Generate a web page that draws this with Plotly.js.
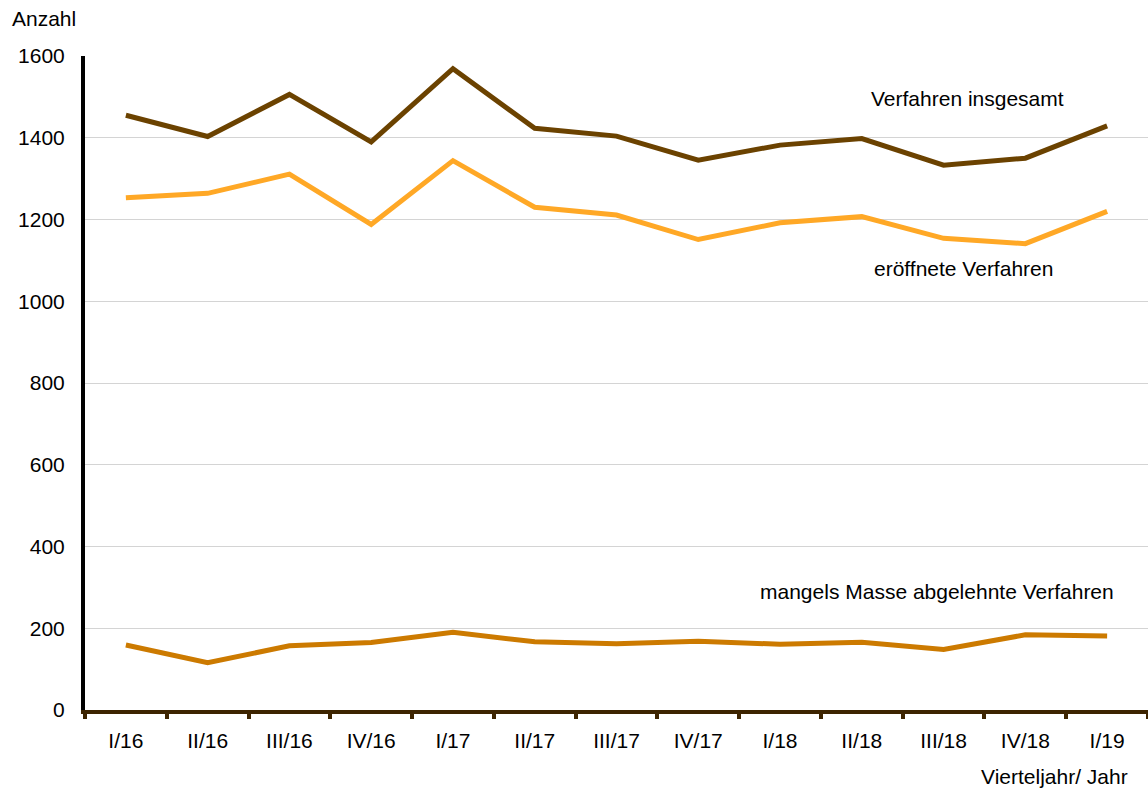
<!DOCTYPE html>
<html>
<head>
<meta charset="utf-8">
<script src="https://cdn.plot.ly/plotly-3.0.1.min.js"></script>
<style>
html,body{margin:0;padding:0;background:#fff;}
#chart{width:1148px;height:792px;}
</style>
</head>
<body>
<div id="chart"></div>
<script>
const quarters = ["I/16","II/16","III/16","IV/16","I/17","II/17","III/17","IV/17","I/18","II/18","III/18","IV/18","I/19"];
const insgesamt = [1455,1403,1506,1390,1569,1423,1404,1345,1382,1398,1333,1350,1429];
const eroeffnet = [1253,1264,1311,1188,1344,1230,1211,1151,1192,1207,1154,1141,1220];
const mangelsMasse = [159,116,157,165,190,167,162,168,161,166,148,184,181];
const yTicks = [0,200,400,600,800,1000,1200,1400,1600];

const FONT = "Liberation Sans, Arial, sans-serif";
const FS = 21;

const traces = [
  {x: quarters, y: insgesamt, type: "scatter", mode: "lines", name: "Verfahren insgesamt",
   line: {color: "#6b4200", width: 5}},
  {x: quarters, y: eroeffnet, type: "scatter", mode: "lines", name: "eröffnete Verfahren",
   line: {color: "#ffa826", width: 5}},
  {x: quarters, y: mangelsMasse, type: "scatter", mode: "lines", name: "mangels Masse abgelehnte Verfahren",
   line: {color: "#cc7a00", width: 5}}
];

const layout = {
  width: 1148, height: 792,
  margin: {l: 85, r: 0, t: 56, b: 82},
  paper_bgcolor: "#ffffff", plot_bgcolor: "#ffffff",
  showlegend: false,
  font: {family: FONT, size: FS, color: "#000"},
  xaxis: {
    type: "category",
    range: [-0.5, 12.5],
    showline: true, linecolor: "#3d2400", linewidth: 4,
    ticks: "outside", tickson: "boundaries", ticklen: 5, tickwidth: 4, tickcolor: "#3d2400",
    showgrid: false, zeroline: false,
    tickfont: {family: FONT, size: FS, color: "#000"},
    ticklabelstandoff: 9
  },
  yaxis: {
    range: [0, 1600],
    tickvals: yTicks,
    ticktext: yTicks.map(String),
    showline: true, linecolor: "#000000", linewidth: 4,
    showgrid: true, gridcolor: "#d4d4d4", gridwidth: 1,
    zeroline: false,
    ticks: "", ticklabelstandoff: 12,
    tickfont: {family: FONT, size: FS, color: "#000"}
  },
  annotations: [
    {text: "Verfahren insgesamt", x: 10.29, y: 1497, xref: "x", yref: "y", showarrow: false,
     xanchor: "center", yanchor: "middle", font: {family: FONT, size: FS, color: "#000"}},
    {text: "eröffnete Verfahren", x: 10.24, y: 1079, xref: "x", yref: "y", showarrow: false,
     xanchor: "center", yanchor: "middle", font: {family: FONT, size: FS, color: "#000"}},
    {text: "mangels Masse abgelehnte Verfahren", x: 9.92, y: 291, xref: "x", yref: "y", showarrow: false,
     xanchor: "center", yanchor: "middle", font: {family: FONT, size: FS, color: "#000"}},
    {text: "Anzahl", x: -0.0706, y: 1.058, xref: "paper", yref: "paper", showarrow: false,
     xanchor: "left", yanchor: "middle", font: {family: FONT, size: FS, color: "#000"}},
    {text: "Vierteljahr/ Jahr", x: 0.983, y: -0.101, xref: "paper", yref: "paper", showarrow: false,
     xanchor: "right", yanchor: "middle", font: {family: FONT, size: FS, color: "#000"}}
  ]
};

Plotly.newPlot("chart", traces, layout, {displayModeBar: false, staticPlot: true});
</script>
</body>
</html>
